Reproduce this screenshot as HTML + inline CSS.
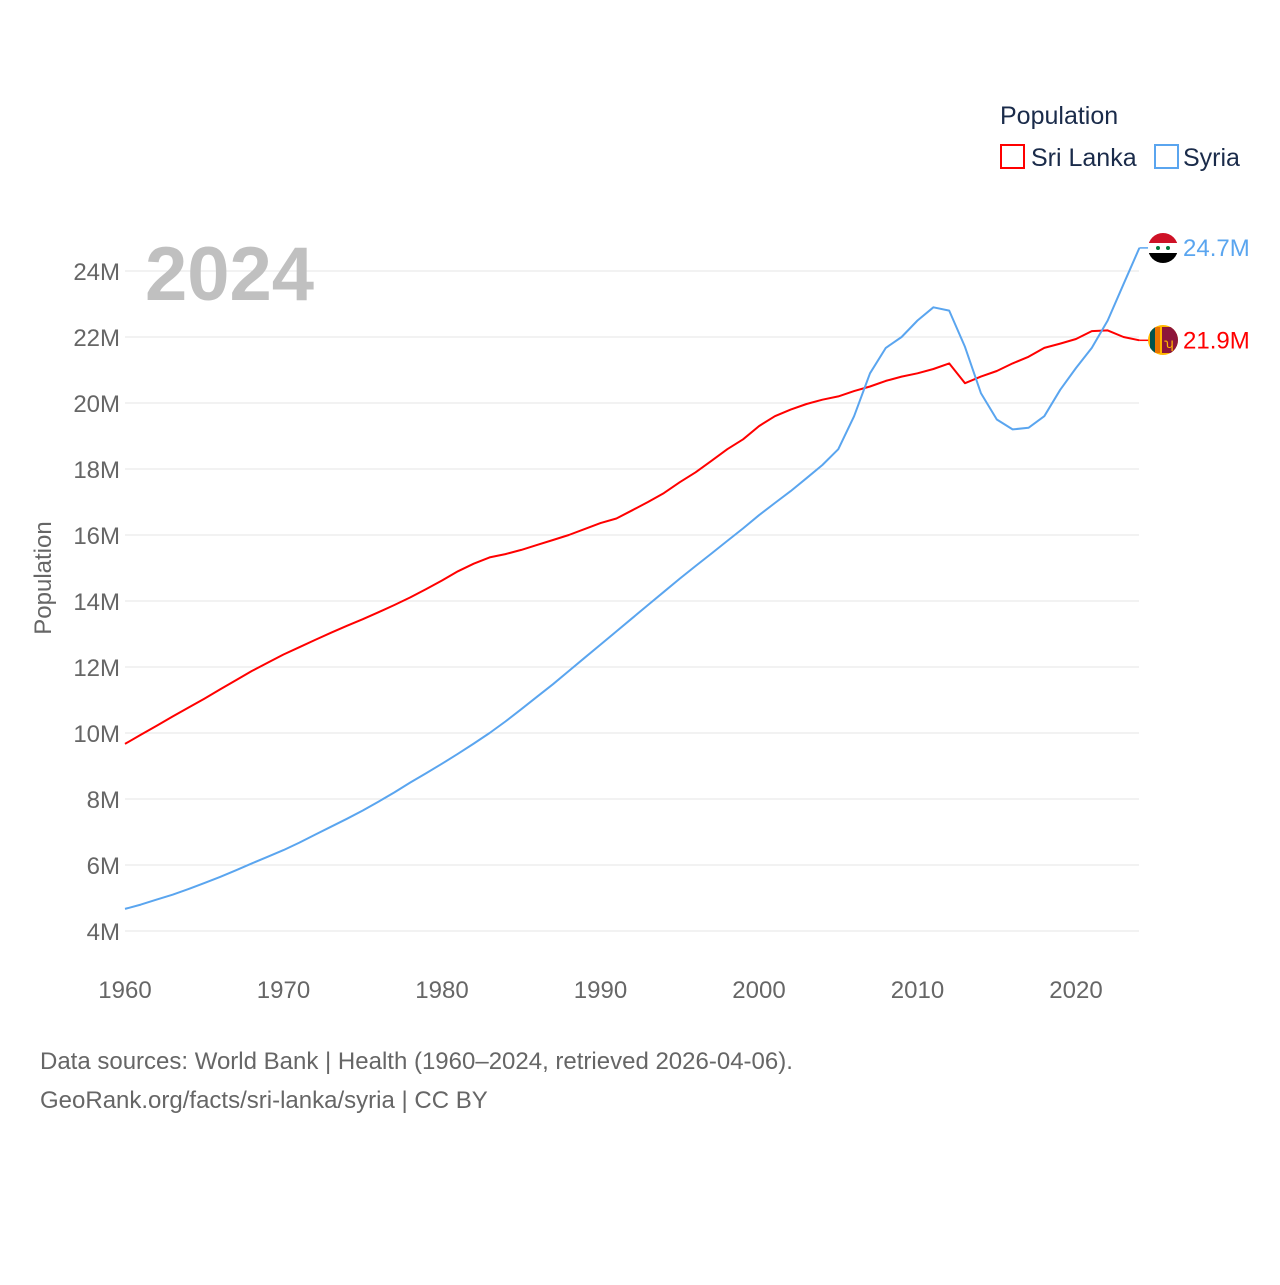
<!DOCTYPE html>
<html><head><meta charset="utf-8">
<style>
html,body{margin:0;padding:0;background:#fff;}
body{width:1280px;height:1280px;overflow:hidden;font-family:"Liberation Sans",sans-serif;}
</style></head>
<body>
<svg width="1280" height="1280" id="chart">
  <g id="grid"></g>
  <g id="yticks"></g>
  <g id="xticks"></g>
  <text x="145" y="300" font-size="76" font-weight="bold" fill="#c0c0c0">2024</text>
  <text transform="translate(51,578) rotate(-90)" text-anchor="middle" font-size="24" fill="#666">Population</text>
  <g id="series"></g>
  <g>
    <text x="1000" y="124" font-size="25" fill="#1a2b4a">Population</text>
    <g>
      <rect x="1001" y="145" width="23" height="23" fill="none" stroke="#ff0000" stroke-width="2"/>
      <text x="1031" y="166" font-size="25" fill="#1a2b4a">Sri Lanka</text>
    </g>
    <g>
      <rect x="1155" y="145" width="23" height="23" fill="none" stroke="#5aa5ef" stroke-width="2"/>
      <text x="1183" y="166" font-size="25" fill="#1a2b4a">Syria</text>
    </g>
  </g>
  <g>
    <clipPath id="c1"><circle cx="1163" cy="248" r="15"/></clipPath>
    <g clip-path="url(#c1)">
      <rect x="1148" y="233" width="30" height="10" fill="#ce1126"/>
      <rect x="1148" y="243" width="30" height="10" fill="#fff"/>
      <rect x="1148" y="253" width="30" height="10" fill="#000"/>
      <circle cx="1158" cy="248" r="2" fill="#007a3d"/><circle cx="1168" cy="248" r="2" fill="#007a3d"/>
    </g>
  </g>
  <g>
    <clipPath id="c2"><circle cx="1163" cy="340" r="15"/></clipPath>
    <g clip-path="url(#c2)">
      <rect x="1148" y="325" width="30" height="30" fill="#ffb700"/>
      <rect x="1150" y="327" width="5" height="26" fill="#00534e"/>
      <rect x="1155" y="327" width="5" height="26" fill="#eb7400"/>
      <rect x="1162" y="327" width="16" height="26" fill="#8d153a"/>
      <text x="1164" y="348" font-size="14" fill="#ffb700">ʮ</text>
    </g>
  </g>
  <text x="40" y="1069" font-size="24" fill="#666">Data sources: World Bank | Health (1960–2024, retrieved 2026-04-06).</text>
  <text x="40" y="1108" font-size="24" fill="#666">GeoRank.org/facts/sri-lanka/syria | CC BY</text>
</svg>
<script>
const years = [];
for (let y = 1960; y <= 2024; y++) years.push(y);
const sriLanka = [9.67,9.95,10.22,10.5,10.77,11.04,11.32,11.6,11.88,12.13,12.38,12.6,12.82,13.04,13.25,13.45,13.66,13.88,14.11,14.36,14.62,14.9,15.13,15.32,15.42,15.55,15.7,15.85,16.0,16.18,16.36,16.5,16.75,17.0,17.27,17.6,17.9,18.25,18.6,18.9,19.3,19.6,19.8,19.97,20.1,20.2,20.36,20.5,20.67,20.8,20.9,21.03,21.2,20.6,20.8,20.97,21.2,21.4,21.67,21.8,21.94,22.18,22.2,22.0,21.9];
const syria = [4.67,4.8,4.95,5.1,5.27,5.45,5.64,5.84,6.05,6.25,6.45,6.68,6.92,7.16,7.4,7.65,7.92,8.2,8.5,8.78,9.07,9.37,9.68,10.0,10.35,10.72,11.1,11.48,11.88,12.28,12.68,13.08,13.48,13.88,14.28,14.68,15.06,15.44,15.82,16.2,16.6,16.97,17.33,17.72,18.12,18.6,19.6,20.9,21.67,22.0,22.5,22.9,22.8,21.7,20.3,19.5,19.2,19.25,19.6,20.4,21.06,21.67,22.5,23.6,24.7];
const yTicks = [4,6,8,10,12,14,16,18,20,22,24];
const xTicks = [1960,1970,1980,1990,2000,2010,2020];
const xs = y => 125 + (y - 1960) * (1076 - 125) / 60;
const ys = v => 1063 - 33 * v;
const NS = "http://www.w3.org/2000/svg";
const grid = document.getElementById('grid'), yt = document.getElementById('yticks'), xt = document.getElementById('xticks'), ser = document.getElementById('series');
yTicks.forEach(v => {
  const l = document.createElementNS(NS, 'line');
  l.setAttribute('x1', 125); l.setAttribute('x2', 1139); l.setAttribute('y1', ys(v)); l.setAttribute('y2', ys(v));
  l.setAttribute('stroke', '#e6e6e6'); l.setAttribute('stroke-width', 1);
  
  
  grid.appendChild(l);
  const t = document.createElementNS(NS, 'text');
  t.setAttribute('x', 120); t.setAttribute('y', ys(v) + 9); t.setAttribute('text-anchor', 'end');
  t.setAttribute('font-size', 24); t.setAttribute('fill', '#666'); t.textContent = v + 'M';
  
  
  yt.appendChild(t);
});
xTicks.forEach(y => {
  const t = document.createElementNS(NS, 'text');
  t.setAttribute('x', xs(y)); t.setAttribute('y', 998); t.setAttribute('text-anchor', 'middle');
  t.setAttribute('font-size', 24); t.setAttribute('fill', '#666'); t.textContent = y;
  
  
  xt.appendChild(t);
});
function line(xv, vals, color, name) {
  const p = document.createElementNS(NS, 'path');
  p.setAttribute('d', vals.map((v, i) => (i ? 'L' : 'M') + xs(xv[i]).toFixed(1) + ',' + ys(v).toFixed(1)).join(' '));
  p.setAttribute('fill', 'none'); p.setAttribute('stroke', color); p.setAttribute('stroke-width', 2);
  p.setAttribute('stroke-linejoin', 'round');
  
  
  ser.appendChild(p);
  const last = vals[vals.length - 1], lx = xs(xv[xv.length - 1]);
  const c = document.createElementNS(NS, 'line');
  c.setAttribute('x1', lx); c.setAttribute('x2', lx + 9); c.setAttribute('y1', ys(last)); c.setAttribute('y2', ys(last));
  c.setAttribute('stroke', color); c.setAttribute('stroke-width', 1.5);
  
  
  ser.appendChild(c);
  const t = document.createElementNS(NS, 'text');
  t.setAttribute('x', 1183); t.setAttribute('y', ys(last) + 8); t.setAttribute('font-size', 24); t.setAttribute('fill', color);
  t.textContent = last.toFixed(1) + 'M';
  
  
  ser.appendChild(t);
}
line(years, sriLanka, '#ff0000', 'sri-lanka-line');
line(years, syria, '#5aa5ef', 'syria-line');
</script>
</body></html>
